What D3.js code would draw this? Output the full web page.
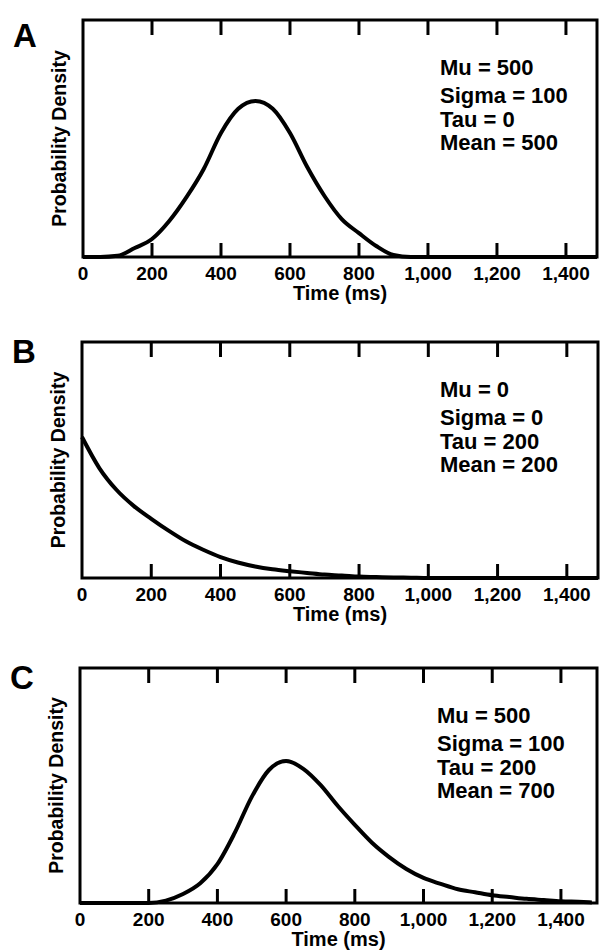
<!DOCTYPE html>
<html>
<head>
<meta charset="utf-8">
<script src="https://cdn.jsdelivr.net/npm/d3@7"></script>
<style>
  html, body { margin: 0; padding: 0; background: #fff; }
  svg { display: block; }
</style>
</head>
<body>
<div id="chart"></div>
<script>
// time grid (ms) shared by the three curves
const timeMs = [0, 50, 100, 150, 200, 250, 300, 350, 400, 450, 500, 550, 600, 650, 700,
  750, 800, 850, 900, 950, 1000, 1050, 1100, 1150, 1200, 1250, 1300, 1350, 1400, 1450, 1490];

// densities (per second)
const densityA = [0, 0, 0.03, 0.23, 0.46, 0.92, 1.53, 2.25, 3.17, 3.79, 3.99, 3.79, 3.17, 2.30, 1.56,
  0.97, 0.61, 0.28, 0.05, 0, 0, 0, 0, 0, 0, 0, 0, 0, 0, 0, 0];
const densityB = [5.00, 3.90, 3.12, 2.55, 2.10, 1.68, 1.30, 1.00, 0.74, 0.55, 0.41, 0.31, 0.24, 0.18, 0.12,
  0.09, 0.05, 0.035, 0.02, 0.01, 0, 0, 0, 0, 0, 0, 0, 0, 0, 0, 0];
const densityC = [0, 0, 0, 0, 0, 0.04, 0.15, 0.33, 0.65, 1.17, 1.78, 2.23, 2.38, 2.25, 1.98,
  1.63, 1.31, 1.01, 0.77, 0.57, 0.42, 0.32, 0.23, 0.18, 0.13, 0.10, 0.07, 0.05, 0.03, 0.02, 0.01];

const xTickValues = [0, 200, 400, 600, 800, 1000, 1200, 1400];
const panelLetters = ["A", "B", "C"];
const paramLines = [
  ["Mu = 500", "Sigma = 100", "Tau = 0", "Mean = 500"],
  ["Mu = 0", "Sigma = 0", "Tau = 200", "Mean = 200"],
  ["Mu = 500", "Sigma = 100", "Tau = 200", "Mean = 700"]
];
const seriesList = [densityA, densityB, densityC];

const width = 600, height = 952;
const font = "'Liberation Sans', Arial, Helvetica, sans-serif";

// panel boxes
const panels = [
  { left: 83, right: 597, top: 20, bottom: 257, xEnd: 1490, yMax: 6.06, textX: 440 },
  { left: 82, right: 598, top: 342, bottom: 578, xEnd: 1490, yMax: 8.37, textX: 440 },
  { left: 80, right: 597, top: 668, bottom: 903, xEnd: 1505, yMax: 3.94, textX: 437 }
];

const svg = d3.select("#chart").append("svg")
  .attr("width", width)
  .attr("height", height)
  .attr("viewBox", `0 0 ${width} ${height}`);

panels.forEach((p, i) => {
  const g = svg.append("g");
  const x = d3.scaleLinear().domain([0, p.xEnd]).range([p.left, p.right]);
  const y = d3.scaleLinear().domain([0, p.yMax]).range([p.bottom, p.top]);

  // curve
  const line = d3.line()
    .x((d, k) => x(timeMs[k]))
    .y(d => y(d))
    .curve(d3.curveMonotoneX);

  g.append("path")
    .datum(seriesList[i])
    .attr("d", line)
    .attr("fill", "none")
    .attr("stroke", "#000")
    .attr("stroke-width", 4)
    .attr("stroke-linejoin", "round");

  // frame
  g.append("rect")
    .attr("x", p.left)
    .attr("y", p.top)
    .attr("width", p.right - p.left)
    .attr("height", p.bottom - p.top)
    .attr("fill", "none")
    .attr("stroke", "#000")
    .attr("stroke-width", 3);

  // inward ticks, bottom and top
  const inner = xTickValues.filter(t => t > 0);
  inner.forEach(t => {
    g.append("line")
      .attr("x1", x(t)).attr("x2", x(t))
      .attr("y1", p.bottom).attr("y2", p.bottom - 14)
      .attr("stroke", "#000").attr("stroke-width", 3);
    g.append("line")
      .attr("x1", x(t)).attr("x2", x(t))
      .attr("y1", p.top).attr("y2", p.top + 15)
      .attr("stroke", "#000").attr("stroke-width", 3);
  });

  // tick labels
  xTickValues.forEach(t => {
    g.append("text")
      .attr("x", x(t))
      .attr("y", p.bottom + 23)
      .attr("text-anchor", "middle")
      .style("font-family", font)
      .style("font-size", "19px")
      .style("font-weight", "bold")
      .text(d3.format(",")(t));
  });

  // x title
  g.append("text")
    .attr("x", (p.left + p.right) / 2)
    .attr("y", p.bottom + 43)
    .attr("text-anchor", "middle")
    .style("font-family", font)
    .style("font-size", "20px")
    .style("font-weight", "bold")
    .text("Time (ms)");

  // y title
  g.append("text")
    .attr("transform", `translate(${p.left - 17}, ${(p.top + p.bottom) / 2}) rotate(-90)`)
    .attr("text-anchor", "middle")
    .style("font-family", font)
    .style("font-size", "19.5px")
    .style("font-weight", "bold")
    .text("Probability Density");

  // panel letter
  g.append("text")
    .attr("x", p.left - 70)
    .attr("y", p.top + (i === 0 ? 27 : 21))
    .style("font-family", font)
    .style("font-size", "33px")
    .style("font-weight", "bold")
    .text(panelLetters[i]);

  // parameter block
  const offsets = [55, 83, 107, 130];
  paramLines[i].forEach((s, k) => {
    g.append("text")
      .attr("x", p.textX)
      .attr("y", p.top + offsets[k])
      .style("font-family", font)
      .style("font-size", "22px")
      .style("font-weight", "bold")
      .text(s);
  });
});
</script>
</body>
</html>
